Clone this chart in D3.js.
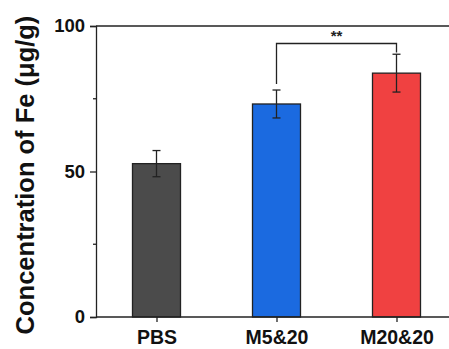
<!DOCTYPE html>
<html>
<head>
<meta charset="utf-8">
<script src="https://cdn.jsdelivr.net/npm/d3@7"></script>
<style>
  body { margin: 0; background: #fff; }
  text { font-family: "Liberation Sans", Arial, sans-serif; font-weight: bold; }
</style>
</head>
<body>
<div id="chart"></div>
<script>
var groups = ["PBS", "M5&20", "M20&20"];
var means = [52.7, 73.2, 83.8];
var errors = [4.5, 4.8, 6.5];
var colors = ["#4b4b4b", "#1b6ae0", "#f04141"];
var yTicks = [0, 50, 100];
var yMinorTicks = [25, 75];

var width = 449, height = 349;
var plotLeft = 96, plotTop = 26, plotBottom = 317, plotRight = 449;

var svg = d3.select("#chart").append("svg")
  .attr("width", width)
  .attr("height", height);

var x = d3.scalePoint()
  .domain(groups)
  .range([156.5, 396.5]);

var y = d3.scaleLinear()
  .domain([0, 100])
  .range([plotBottom, plotTop]);

var barWidth = 48;

// top frame line, runs to the edge
svg.append("line")
  .attr("x1", plotLeft).attr("x2", plotRight)
  .attr("y1", plotTop).attr("y2", plotTop)
  .attr("stroke", "#222").attr("stroke-width", 1.3);

// y axis
var yAxis = svg.append("g")
  .attr("transform", "translate(" + plotLeft + ",0)")
  .call(d3.axisLeft(y).tickValues(yTicks).tickSize(6).tickPadding(5));
yAxis.select(".domain").attr("stroke", "#222").attr("stroke-width", 1.3);
yAxis.selectAll(".tick line").attr("stroke", "#222").attr("stroke-width", 1.3);
yAxis.selectAll(".tick text").attr("font-size", 18.5).attr("fill", "#111")
  .style("font-family", "Liberation Sans, Arial, sans-serif").style("font-weight", "bold");

svg.append("g")
  .attr("transform", "translate(" + plotLeft + ",0)")
  .selectAll("line").data(yMinorTicks).enter().append("line")
  .attr("x1", -3).attr("x2", 0)
  .attr("y1", function(d) { return y(d); })
  .attr("y2", function(d) { return y(d); })
  .attr("stroke", "#222").attr("stroke-width", 1.3);

// bars
svg.selectAll("rect.bar").data(groups).enter().append("rect")
  .attr("class", "bar")
  .attr("x", function(d) { return x(d) - barWidth / 2; })
  .attr("y", function(d, i) { return y(means[i]); })
  .attr("width", barWidth)
  .attr("height", function(d, i) { return y(0) - y(means[i]); })
  .attr("fill", function(d, i) { return colors[i]; })
  .attr("stroke", "#222")
  .attr("stroke-width", 1.3);

// error bars
var eb = svg.selectAll("g.err").data(groups).enter().append("g").attr("class", "err");
eb.append("line")
  .attr("x1", function(d) { return x(d); })
  .attr("x2", function(d) { return x(d); })
  .attr("y1", function(d, i) { return y(means[i] + errors[i]); })
  .attr("y2", function(d, i) { return y(means[i] - errors[i]); });
eb.append("line")
  .attr("x1", function(d) { return x(d) - 4; })
  .attr("x2", function(d) { return x(d) + 4; })
  .attr("y1", function(d, i) { return y(means[i] + errors[i]); })
  .attr("y2", function(d, i) { return y(means[i] + errors[i]); });
eb.append("line")
  .attr("x1", function(d) { return x(d) - 4; })
  .attr("x2", function(d) { return x(d) + 4; })
  .attr("y1", function(d, i) { return y(means[i] - errors[i]); })
  .attr("y2", function(d, i) { return y(means[i] - errors[i]); });
eb.selectAll("line").attr("stroke", "#222").attr("stroke-width", 1.3);

// x axis
var xAxis = svg.append("g")
  .attr("transform", "translate(0," + plotBottom + ")")
  .call(d3.axisBottom(x).tickSize(5).tickPadding(8));
xAxis.select(".domain").attr("d", "M" + plotLeft + ",0H" + plotRight)
  .attr("stroke", "#222").attr("stroke-width", 1.3);
xAxis.selectAll(".tick line").attr("stroke", "#222").attr("stroke-width", 1.3);
xAxis.selectAll(".tick text").attr("font-size", 19.5).attr("fill", "#111")
  .style("font-family", "Liberation Sans, Arial, sans-serif").style("font-weight", "bold");

// significance bracket
var bracketY = 43.5;
var x1 = x("M5&20"), x2 = x("M20&20");
svg.append("path")
  .attr("d", ["M", x1, 84, "L", x1, bracketY, "L", x2, bracketY, "L", x2, 52.5].join(" "))
  .attr("fill", "none")
  .attr("stroke", "#222")
  .attr("stroke-width", 1.3);
svg.append("text")
  .attr("x", (x1 + x2) / 2)
  .attr("y", 41)
  .attr("text-anchor", "middle")
  .attr("font-size", 15)
  .attr("fill", "#222")
  .text("**");

// y label
svg.append("text")
  .attr("transform", "translate(34,175) rotate(-90)")
  .attr("text-anchor", "middle")
  .attr("font-size", 25.5)
  .attr("fill", "#111")
  .text("Concentration of Fe (μg/g)");
</script>
</body>
</html>
